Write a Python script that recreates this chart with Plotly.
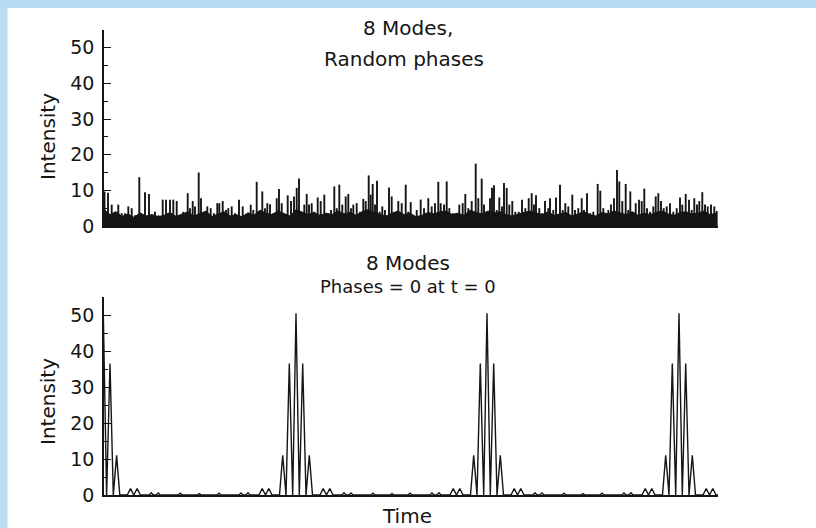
import plotly.graph_objects as go

# ---------------- data ----------------
# Top panel: 8 modes, random phases (spike times in axis units = px from y-axis, intensities)
top_spike_time = [
    0.5, 4, 7.7, 11, 14.3, 17.7, 21, 24.3, 27.7, 31,
    35.3, 37.7, 41, 45, 47.7, 51, 54.3, 58.7, 62, 66,
    69.3, 72.7, 76, 79.3, 83.7, 86, 88.7, 91, 94.7, 97,
    100, 103.3, 106.7, 110, 113.3, 115.3, 118.7, 122, 124.3, 127.7,
    131, 135, 138.7, 142.7, 146.7, 149.3, 152.7, 155.3,
    158.3, 161, 163.3, 166, 169.3, 172.7, 175, 177.7, 180.3, 183.7,
    187, 190, 192.7, 195, 197.7, 200.3, 202.7, 205, 207.7, 210.3,
    213.7, 216.7, 220.3, 223.7, 227, 230.3, 232.7, 235.3, 238.3, 241.7,
    244.3, 247, 249.3, 252.7, 256, 259.3, 261.7, 264.7, 266.7, 268.7,
    271, 273, 275.7, 278.3, 281, 285, 287.7, 291, 294.3, 297.7,
    301.7, 304.3, 306.7, 309.3,
    312.7, 316.7, 320, 324.3, 327.7, 331, 334.3, 336.7, 340, 342.7,
    345.3, 348.7, 352, 355.3, 358.7, 361.3, 364.3, 367.7, 371.7, 374.3,
    377.7, 380, 383.3, 386, 388, 390, 392.7, 395.3, 398, 400,
    402.7, 405.3, 408.3, 411.3, 414.7, 418, 421.3, 424.7, 427.7, 430,
    432, 435.3, 438, 441, 444.3, 446, 449.3, 452, 456, 458.7,
    461.3, 464.3,
    468.3, 471, 474.3, 477.7, 480, 483, 486, 489.3, 493.7, 496.3,
    499.3, 501, 504.3, 507, 510, 513, 515.3, 518.3, 521.7, 524.3,
    526.3, 529.3, 531.7, 535, 537.7, 540.3, 543, 546, 549.3, 551.7,
    554.3, 557, 559.7, 562.7, 566, 569.3, 572.7, 576, 578.3, 581.7,
    585, 587.7, 590.3, 593, 595.3, 598.3, 601, 603.7, 607, 610.3,
    612.7,
]
top_spike_height = [
    9.7, 9.3, 6, 4, 6, 3.6, 3.6, 5.5, 5, 3,
    13.7, 3, 9.5, 9, 2.6, 4, 3, 7.4, 7.4, 7.4,
    7.4, 7, 3, 4, 9.2, 5, 7, 5.5, 15, 7.8,
    3.6, 5.5, 5, 3.6, 6.4, 6.4, 7, 4.5, 5, 5.5,
    3.6, 7.4, 5.5, 2.6, 6, 4.5, 12.4, 4,
    9.7, 5, 6.4, 6.1, 3.6, 7.8, 10.4, 6.4, 3, 8.6,
    7, 8.3, 10.7, 13.3, 4, 6, 9, 6, 6.4, 4,
    8, 7, 8.8, 3.6, 4.5, 11.1, 5, 11.6, 6, 8.3,
    9, 5, 6, 6.4, 4, 7.6, 7, 14.2, 8.8, 11.8,
    6, 12.7, 4, 5.5, 4.5, 10.8, 8.3, 3.6, 7, 6.4,
    11.6, 4, 6.7, 3,
    4.5, 7.4, 5, 7.8, 5.5, 6.4, 12.4, 6.4, 6, 12.5,
    5, 3.6, 3.6, 6, 6.4, 9, 5, 7, 17.5, 7.8,
    13.3, 6, 3.6, 7.8, 10.7, 11.4, 4.5, 8, 5.5, 12.1,
    10.7, 6, 7, 4, 4, 7.4, 5, 7.8, 9.2, 6,
    8.6, 5, 3.6, 7, 5, 7.8, 4.5, 8, 11.6, 4.5,
    6.4, 5.5,
    8.8, 4.5, 5, 7.8, 4.5, 9.2, 3.6, 4, 11.8, 9.9,
    5, 3.6, 4.5, 6, 7.8, 15.7, 12.5, 7, 11.8, 4.5,
    9.7, 4, 6.4, 7.4, 7, 10.5, 5, 4, 5.5, 8.3,
    9.2, 7, 5, 5.5, 6.4, 4, 5, 8, 6, 9,
    7.4, 4.5, 7.8, 6, 7, 9.5, 6, 5.5, 6, 5.5,
    4.2,
]
# dense black floor of the noisy trace, one value every 6 time units
top_floor_step = 6
top_floor_level = [
    4.6, 3.2, 4.0, 2.7, 3.4, 2.4, 3.7, 2.8, 3.2, 2.6,
    3.0, 3.8, 2.7, 3.4, 4.0, 2.8, 3.6, 4.2, 2.7, 3.4,
    4.0, 2.8, 3.2, 2.6, 3.7, 3.0, 4.4, 3.6, 3.2, 4.2,
    3.4, 2.8, 4.6, 4.0, 3.2, 3.8, 3.0, 3.6, 3.2, 4.2,
    3.4, 3.8, 3.0, 4.0, 4.6, 3.8, 3.2, 2.8, 3.6, 4.2,
    3.2, 3.6, 2.6, 3.0, 3.8, 3.4, 4.0, 4.2, 3.2, 3.6,
    3.0, 4.4, 3.8, 3.4, 4.2, 3.6, 4.0, 3.2, 2.8, 3.4,
    3.8, 4.2, 3.6, 3.2, 4.0, 3.0, 3.4, 3.8, 2.8, 3.4,
    4.0, 3.2, 2.8, 3.8, 3.4, 4.2, 3.6, 3.2, 4.0, 3.0,
    3.6, 3.2, 3.8, 4.2, 3.4, 3.0, 3.8, 4.0, 3.4, 3.6,
    4.2, 3.2, 3.6,
]

# Bottom panel: 8 modes, phases = 0 -> one pulse period as read (offset from pulse centre, intensity)
pulse_offset = [
    -94, -79, -77, -75, -57, -55, -53, -50, -48, -46,
    -37, -33.8, -30.5, -27.2, -24,
    -16.5, -13.3, -10, -6.7, -3.3, 0, 3.3, 6.7, 10, 13.3, 16.5,
    24, 27.2, 30.5, 33.8, 37,
    46, 48, 50, 53, 55, 57, 75, 77, 79, 94, 96, 98,
]
pulse_intensity = [
    0, 0, 0.5, 0, 0, 0.55, 0, 0, 0.6, 0,
    0, 1.8, 0, 1.8, 0,
    0, 11, 0, 36.5, 0, 50.5, 0, 36.5, 0, 11, 0,
    0, 1.8, 0, 1.8, 0,
    0, 0.6, 0, 0, 0.55, 0, 0, 0.5, 0, 0, 0.4, 0,
]
pulse_center = [-0.7, 192, 383, 575]

y_ticks = [0, 10, 20, 30, 40, 50]

# ---------------- layout geometry ----------------
W, H = 816, 528
L, R, T, B = 104, 98, 30, 33
PW, PH = W - L - R, H - T - B
FONT = "DejaVu Sans"
INK = "#151515"


def xp(px):
    return (px - L) / PW


def yp(py):
    return (H - B - py) / PH


fig = go.Figure()

floor_t = [i * top_floor_step for i in range(len(top_floor_level))]
fig.add_trace(go.Scatter(x=floor_t, y=top_floor_level, mode="lines", fill="tozeroy",
                         line=dict(color=INK, width=1), fillcolor=INK,
                         xaxis="x", yaxis="y", hoverinfo="skip"))
sx, sy = [], []
for t, h in zip(top_spike_time, top_spike_height):
    sx += [t, t, None]
    sy += [0, h, None]
fig.add_trace(go.Scatter(x=sx, y=sy, mode="lines", line=dict(color=INK, width=1.9),
                         xaxis="x", yaxis="y", hoverinfo="skip"))

bx, by = [], []
for c in pulse_center:
    for o, v in zip(pulse_offset, pulse_intensity):
        bx.append(c + o)
        by.append(v)
fig.add_trace(go.Scatter(x=bx, y=by, mode="lines", line=dict(color=INK, width=1.4),
                         xaxis="x2", yaxis="y2", hoverinfo="skip"))

common_y = dict(range=[0, 55], tickvals=y_ticks, ticks="inside", ticklen=7, tickwidth=1.3,
                tickcolor=INK, showline=True, linecolor=INK, linewidth=1.5,
                showgrid=False, zeroline=False, ticklabelstandoff=4,
                tickfont=dict(family=FONT, size=19, color=INK),
                minor=dict(ticks="inside", ticklen=4, tickwidth=1.1, tickcolor=INK, dtick=5, tick0=0))
common_x = dict(range=[0, 614], showline=True, linecolor=INK, linewidth=1.5,
                showticklabels=False, ticks="", showgrid=False, zeroline=False)

top_dom = [yp(226), yp(30)]
bot_dom = [yp(495), yp(297)]

fig.update_layout(
    width=W, height=H,
    margin=dict(l=L, r=R, t=T, b=B),
    paper_bgcolor="white", plot_bgcolor="white",
    showlegend=False,
    xaxis=dict(domain=[0, 1], anchor="y", **common_x),
    yaxis=dict(domain=top_dom, anchor="x", **common_y),
    xaxis2=dict(domain=[0, 1], anchor="y2", **common_x),
    yaxis2=dict(domain=bot_dom, anchor="x2", **common_y),
)

labels = [
    ("8 Modes,", 408, 28, 0, 20),
    ("Random phases", 404, 59, 0, 20),
    ("8 Modes", 408, 263, 0, 20),
    ("Phases = 0 at t = 0", 408, 286, 0, 18),
    ("Time", 407, 516, 0, 20),
    ("Intensity", 48, 137, -90, 20),
    ("Intensity", 48, 402, -90, 20),
]
for text, px, py, ang, fs in labels:
    fig.add_annotation(text=text, x=xp(px), y=yp(py), xref="paper", yref="paper",
                       xanchor="center", yanchor="middle", showarrow=False,
                       textangle=ang, font=dict(family=FONT, size=fs, color=INK))

# light-blue frame of the scanned page (left and top edges)
frame = "#badcf3"
fig.add_shape(type="rect", xref="paper", yref="paper", x0=xp(0), x1=xp(7.5), y0=yp(H), y1=yp(0),
              fillcolor=frame, line=dict(width=0), layer="above")
fig.add_shape(type="rect", xref="paper", yref="paper", x0=xp(0), x1=xp(W), y0=yp(8), y1=yp(0),
              fillcolor=frame, line=dict(width=0), layer="above")

fig.write_html("out.html", config={"displayModeBar": False},
               post_script="document.body.style.margin='0';document.body.style.overflow='hidden';")
